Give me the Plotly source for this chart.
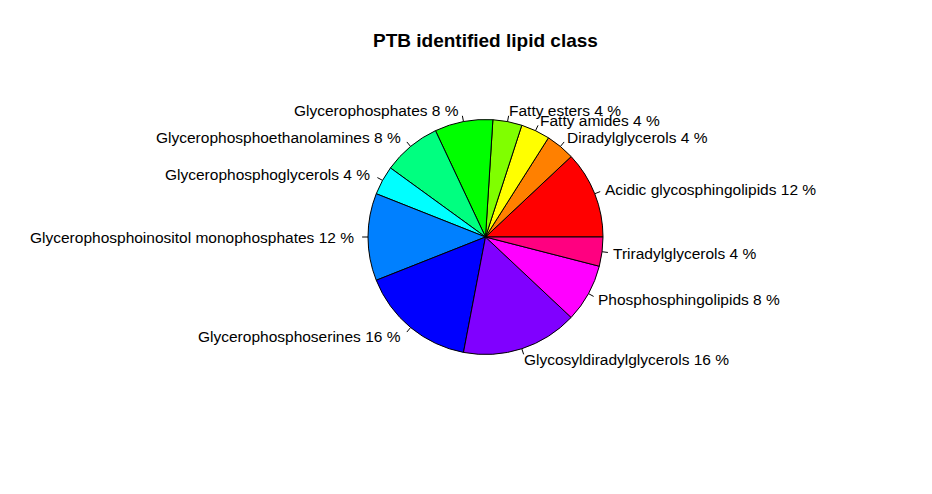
import math
import plotly.graph_objects as go

categories = ["Acidic glycosphingolipids", "Diradylglycerols", "Fatty amides", "Fatty esters",
              "Glycerophosphates", "Glycerophosphoethanolamines", "Glycerophosphoglycerols",
              "Glycerophosphoinositol monophosphates", "Glycerophosphoserines",
              "Glycosyldiradylglycerols", "Phosphosphingolipids", "Triradylglycerols"]
counts = [3, 1, 1, 1, 2, 2, 1, 3, 4, 4, 2, 1]
colors = ["#FF0000", "#FF8000", "#FFFF00", "#80FF00", "#00FF00", "#00FF80",
          "#00FFFF", "#0080FF", "#0000FF", "#8000FF", "#FF00FF", "#FF0080"]

W, H = 932, 494
cx, cy, r = 485.5, 237.0, 117.5  # pixel geometry

total = sum(counts)
pct = [round(100 * c / total) for c in counts]
labels = [f"{n} {p} %" for n, p in zip(categories, pct)]

fig = go.Figure(go.Pie(
    values=counts, labels=categories, sort=False, direction="counterclockwise",
    rotation=90 - 360 * counts[0] / total, textinfo="none", hoverinfo="label+percent",
    marker=dict(colors=colors, line=dict(color="black", width=1)),
    domain=dict(x=[(cx - r) / W, (cx + r) / W], y=[(H - cy - r) / H, (H - cy + r) / H]),
    showlegend=False,
))

def px2paper(x, y):
    return x / W, (H - y) / H

cum = 0
annotations = []
shapes = []
for lab, c in zip(labels, counts):
    mid = (cum + c / 2) / total * 2 * math.pi
    cum += c
    dx, dy = math.cos(mid), math.sin(mid)
    x0, y0 = px2paper(cx + r * dx, cy - r * dy)
    x1, y1 = px2paper(cx + 1.05 * r * dx, cy - 1.05 * r * dy)
    shapes.append(dict(type="line", xref="paper", yref="paper", x0=x0, y0=y0, x1=x1, y1=y1,
                       line=dict(color="black", width=1)))
    tx, ty = px2paper(cx + 1.1 * r * dx, cy - 1.1 * r * dy)
    right = dx >= 0
    annotations.append(dict(x=tx, y=ty, xref="paper", yref="paper", text=lab, showarrow=False,
                            xanchor="left" if right else "right", yanchor="middle",
                            xshift=-3 if right else 0,
                            font=dict(family="Liberation Sans, Arial", size=15.5, color="black")))

annotations.append(dict(x=cx / W, y=(H - 41) / H, xref="paper", yref="paper",
                        text="<b>PTB identified lipid class</b>", showarrow=False,
                        xanchor="center", yanchor="middle",
                        font=dict(family="Liberation Sans, Arial", size=19, color="black")))

fig.update_layout(width=W, height=H, margin=dict(l=0, r=0, t=0, b=0),
                  paper_bgcolor="white", plot_bgcolor="white",
                  annotations=annotations, shapes=shapes)
fig.write_html("out.html")
